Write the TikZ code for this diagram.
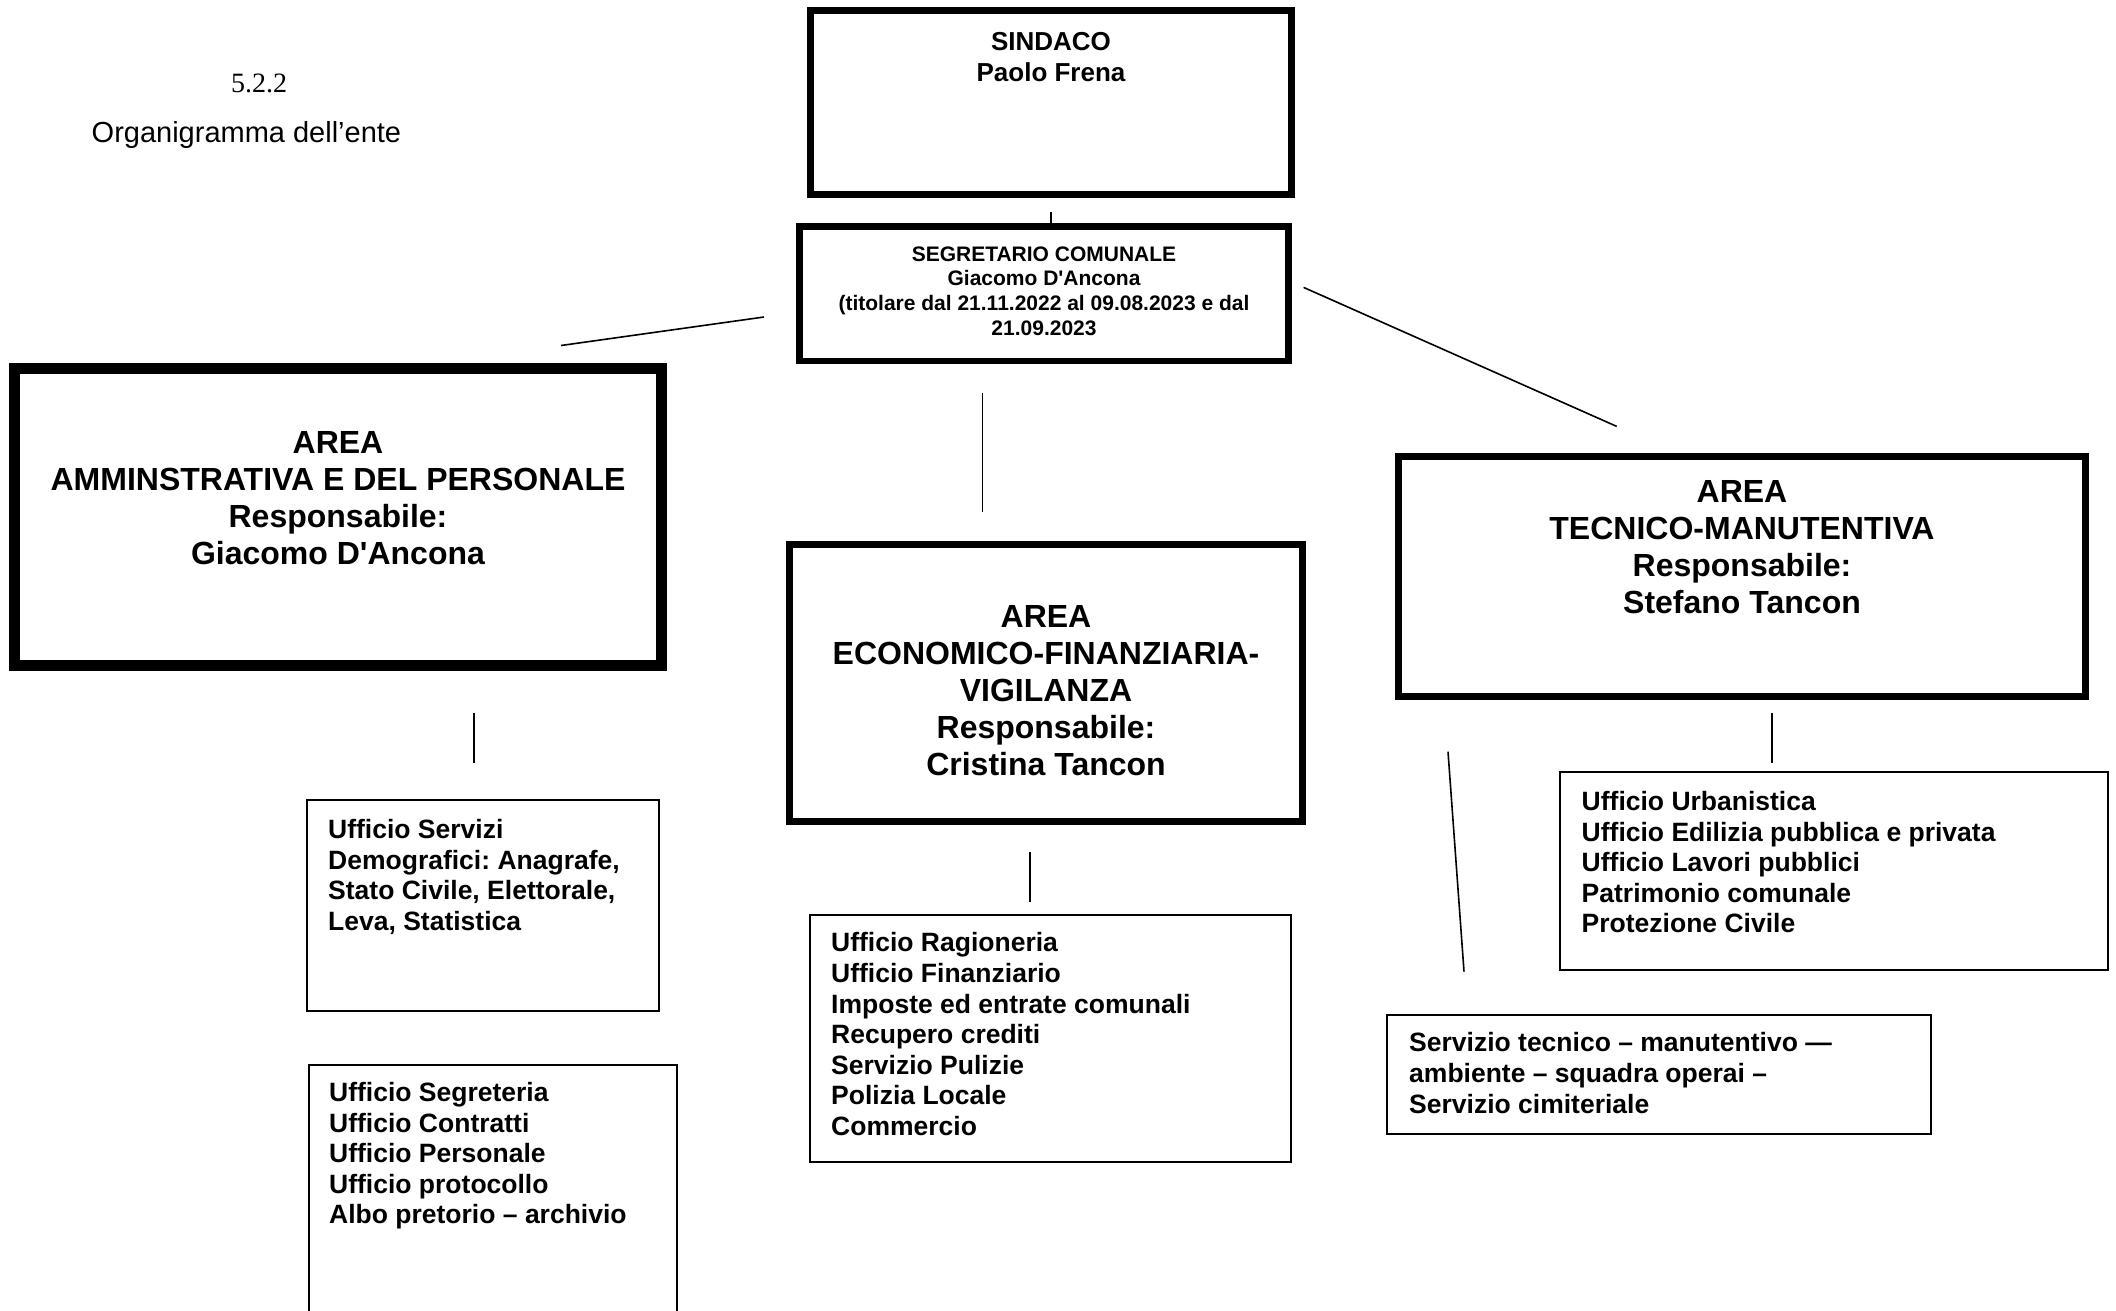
\documentclass[tikz,border=0pt]{standalone}
\usepackage{fontspec}
\setmainfont{Liberation Sans}
\newfontfamily\numfont{Liberation Serif}
\usetikzlibrary{positioning}
\frenchspacing

\tikzset{
  headbox/.style={draw, line width=7pt, inner sep=0pt, outer sep=0pt},
  areabox/.style={draw, line width=6.7pt, inner sep=0pt, outer sep=0pt},
  officebox/.style={draw, line width=1.2pt, inner sep=0pt, outer sep=0pt},
  headtxt/.style={align=center, inner sep=0pt, font=\fontsize{26}{31}\selectfont\bfseries},
  areatxt/.style={align=center, inner sep=0pt, font=\fontsize{32}{37}\selectfont\bfseries},
  officetxt/.style={align=left, inner sep=0pt, anchor=north west, font=\fontsize{26.5}{30.6}\selectfont\bfseries},
  link/.style={line width=1.6pt},
}

\begin{document}
\begin{tikzpicture}[x=1pt, y=-1pt]
\useasboundingbox (0,0) rectangle (2116,1310);

    % Title
    \node[font=\numfont\fontsize{28}{32}\selectfont] (num) at (259,83.5) {5.2.2};
    \node[anchor=west, inner sep=0pt, font=\fontsize{29}{33}\selectfont] (title) at (91.5,134.5) {Organigramma dell’ente};

    % Top level
    \node[headbox, minimum width=481pt, minimum height=184pt] (sindaco) at (1051,102.5) {};
    \node[headtxt, below=22pt of sindaco.north] (sindacot) {SINDACO\\Paolo Frena};

    \node[headbox, line width=6.7pt, minimum width=489.4pt, minimum height=134.7pt] (segr) at (1044,293.7) {};
    \node[headtxt, font=\fontsize{21}{24.6}\selectfont\bfseries, below=20pt of segr.north] (segrt)
        {SEGRETARIO COMUNALE\\Giacomo D\textquotesingle Ancona\\(titolare dal 21.11.2022 al 09.08.2023 e dal\\21.09.2023};

    % Areas
    \node[areabox, line width=11pt, minimum width=647pt, minimum height=297pt] (amm) at (338,517) {};
    \node[areatxt, below=62.5pt of amm.north] (ammt)
        {AREA\\AMMINSTRATIVA E DEL PERSONALE\\Responsabile:\\Giacomo D\textquotesingle Ancona};

    \node[areabox, minimum width=513.4pt, minimum height=277.4pt] (eco) at (1046,683) {};
    \node[areatxt, below=61pt of eco.north] (ecot)
        {AREA\\ECONOMICO-FINANZIARIA-\\VIGILANZA\\Responsabile:\\Cristina Tancon};

    \node[areabox, minimum width=687.4pt, minimum height=240.4pt] (tec) at (1742,576.5) {};
    \node[areatxt, below=23.5pt of tec.north] (tect)
        {AREA\\TECNICO-MANUTENTIVA\\Responsabile:\\Stefano Tancon};

    % Offices
    \node[officebox, minimum width=352pt, minimum height=211pt] (demo) at (483,905.5) {};
    \node[officetxt] (demot) at ([shift={(21,19)}]demo.north west)
        {Ufficio Servizi\\Demografici: Anagrafe,\\Stato Civile, Elettorale,\\Leva, Statistica};

    \node[officebox, minimum width=368pt, minimum height=265pt] (segrt2) at (493,1197.5) {};
    \node[officetxt] (segrt2t) at ([shift={(20,17)}]segrt2.north west)
        {Ufficio Segreteria\\Ufficio Contratti\\Ufficio Personale\\Ufficio protocollo\\Albo pretorio – archivio};

    \node[officebox, minimum width=481pt, minimum height=247pt] (rag) at (1050.5,1038.5) {};
    \node[officetxt] (ragt) at ([shift={(21,17.5)}]rag.north west)
        {Ufficio Ragioneria\\Ufficio Finanziario\\Imposte ed entrate comunali\\Recupero crediti\\Servizio Pulizie\\Polizia Locale\\Commercio};

    \node[officebox, minimum width=548pt, minimum height=198pt] (urb) at (1834,871) {};
    \node[officetxt] (urbt) at ([shift={(21.5,19)}]urb.north west)
        {Ufficio Urbanistica\\Ufficio Edilizia pubblica e privata\\Ufficio Lavori pubblici\\Patrimonio comunale\\Protezione Civile};

    \node[officebox, minimum width=544pt, minimum height=119pt] (manut) at (1659,1074.5) {};
    \node[officetxt] (manutt) at ([shift={(22,17.5)}]manut.north west)
        {Servizio tecnico – manutentivo —\\ambiente – squadra operai –\\Servizio cimiteriale};

    % Links (loose ends, not touching the boxes)
    \coordinate (sin-a) at (1051,212);   \coordinate (sin-b) at (1051,224);
    \coordinate (amm-a) at (764,317);    \coordinate (amm-b) at (561,345.5);
    \coordinate (eco-a) at (982.4,392.7);\coordinate (eco-b) at (982.4,511.5);
    \coordinate (tec-a) at (1303.6,287.4);\coordinate (tec-b) at (1616.7,426.4);
    \coordinate (demo-a) at (473.7,712.5);\coordinate (demo-b) at (473.7,762.5);
    \coordinate (rag-a) at (1029.7,851.5);\coordinate (rag-b) at (1029.7,901.5);
    \coordinate (urb-a) at (1772,712.5); \coordinate (urb-b) at (1772,762.5);
    \coordinate (man-a) at (1448,751.7); \coordinate (man-b) at (1464,971.6);

    \draw[link] (sin-a) -- (sin-b);
    \draw[link] (amm-a) -- (amm-b);
    \draw[link] (eco-a) -- (eco-b);
    \draw[link] (tec-a) -- (tec-b);
    \draw[link] (demo-a) -- (demo-b);
    \draw[link] (rag-a) -- (rag-b);
    \draw[link] (urb-a) -- (urb-b);
    \draw[link] (man-a) -- (man-b);

\end{tikzpicture}
\end{document}
